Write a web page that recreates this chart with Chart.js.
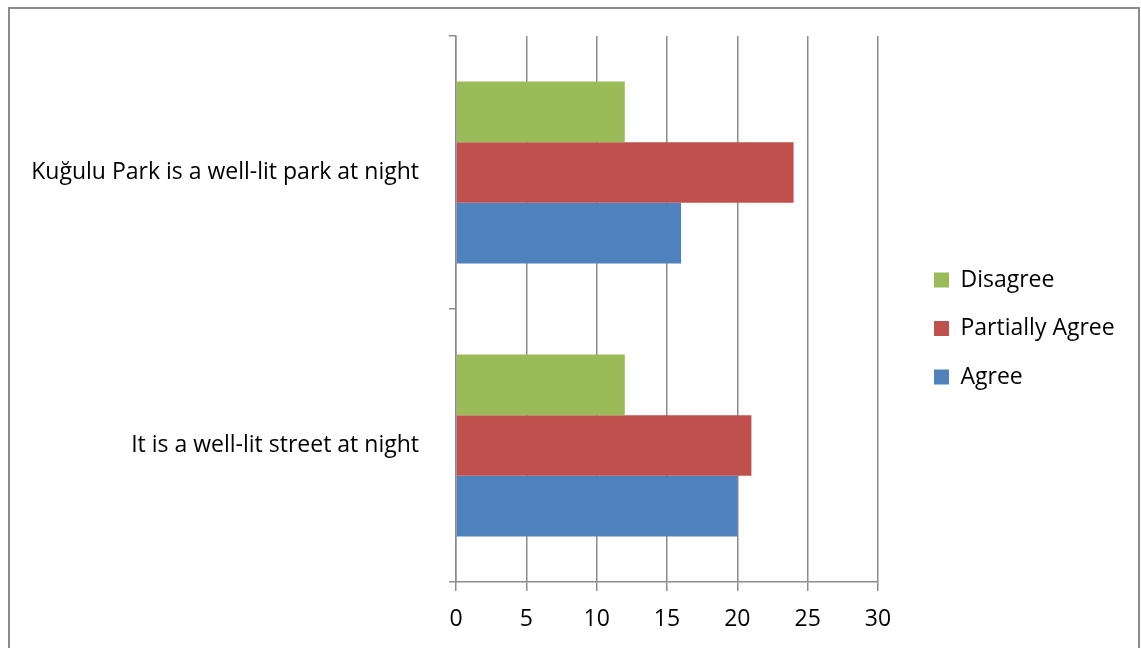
<!DOCTYPE html>
<html>
<head>
<meta charset="utf-8">
<script src="https://cdn.jsdelivr.net/npm/chart.js@4.4.1/dist/chart.umd.min.js"></script>
<style>
  html, body { margin: 0; padding: 0; background: #fff; overflow: hidden; }
  #frame { position: absolute; left: 8px; top: 7px; width: 1132px; height: 700px;
           border: 2px solid #8c8c8c; border-bottom: none; box-sizing: border-box; }
  #myChart { position: absolute; left: 0; top: 0; }
</style>
</head>
<body>
<div id="frame"></div>
<canvas id="myChart" width="1141" height="648"></canvas>
<script>
const categories = ["Kuğulu Park is a well-lit park at night", "It is a well-lit street at night"];
const disagree = [12, 12];
const partiallyAgree = [24, 21];
const agree = [16, 20];
const xTicks = [0, 5, 10, 15, 20, 25, 30];

const gridGray = "#8c8c8c";
const fontSize = 23;
const ctx = document.getElementById("myChart");

Chart.defaults.font.family = "'Open Sans'";
Chart.defaults.font.size = fontSize;
Chart.defaults.color = "#000";

// puts the legend where excel had it, right of the plot
const legendPlacer = {
  id: "legendPlacer",
  afterInit(chart) {
    const lg = chart.legend;
    const fit = lg.fit;
    lg.fit = function () {
      fit.call(this);
      this.width = 1141 - 878;
    };
  },
  afterLayout(chart) {
    const lg = chart.legend;
    const pad = lg.options.labels.padding;
    lg.left = 934 - pad;
    lg.right = 1141;
    lg.top = 280 - fontSize / 2 - pad;
  }
};

new Chart(ctx, {
  type: "bar",
  data: {
    labels: categories,
    datasets: [
      { label: "Disagree", data: disagree, backgroundColor: "#9BBB59" },
      { label: "Partially Agree", data: partiallyAgree, backgroundColor: "#C0504D" },
      { label: "Agree", data: agree, backgroundColor: "#4F81BD" }
    ]
  },
  options: {
    indexAxis: "y",
    responsive: false,
    animation: false,
    events: [],
    categoryPercentage: 0.667,
    barPercentage: 1,
    layout: { padding: { left: 0, top: 36, right: 0, bottom: 0 } },
    plugins: {
      tooltip: { enabled: false },
      legend: {
        position: "right",
        align: "start",
        labels: { boxWidth: 15, boxHeight: 15, padding: 25.5 }
      }
    },
    scales: {
      x: {
        min: 0,
        max: 30,
        afterBuildTicks: (s) => { s.ticks = xTicks.map((v) => ({ value: v })); },
        afterFit: (s) => { s.height = 66; },
        grid: { color: gridGray, lineWidth: 1.5, tickLength: 9 },
        border: { color: gridGray, width: 1.5 },
        ticks: { padding: 15 }
      },
      y: {
        afterFit: (s) => {
          s.width = 456;
          s.paddingTop = 0;
          s.paddingBottom = 0;
        },
        grid: { drawOnChartArea: false, color: gridGray, lineWidth: 1.5, tickLength: 7 },
        border: { color: gridGray, width: 1.5 },
        ticks: { padding: 30 }
      }
    }
  },
  plugins: [legendPlacer]
});
</script>
</body>
</html>
